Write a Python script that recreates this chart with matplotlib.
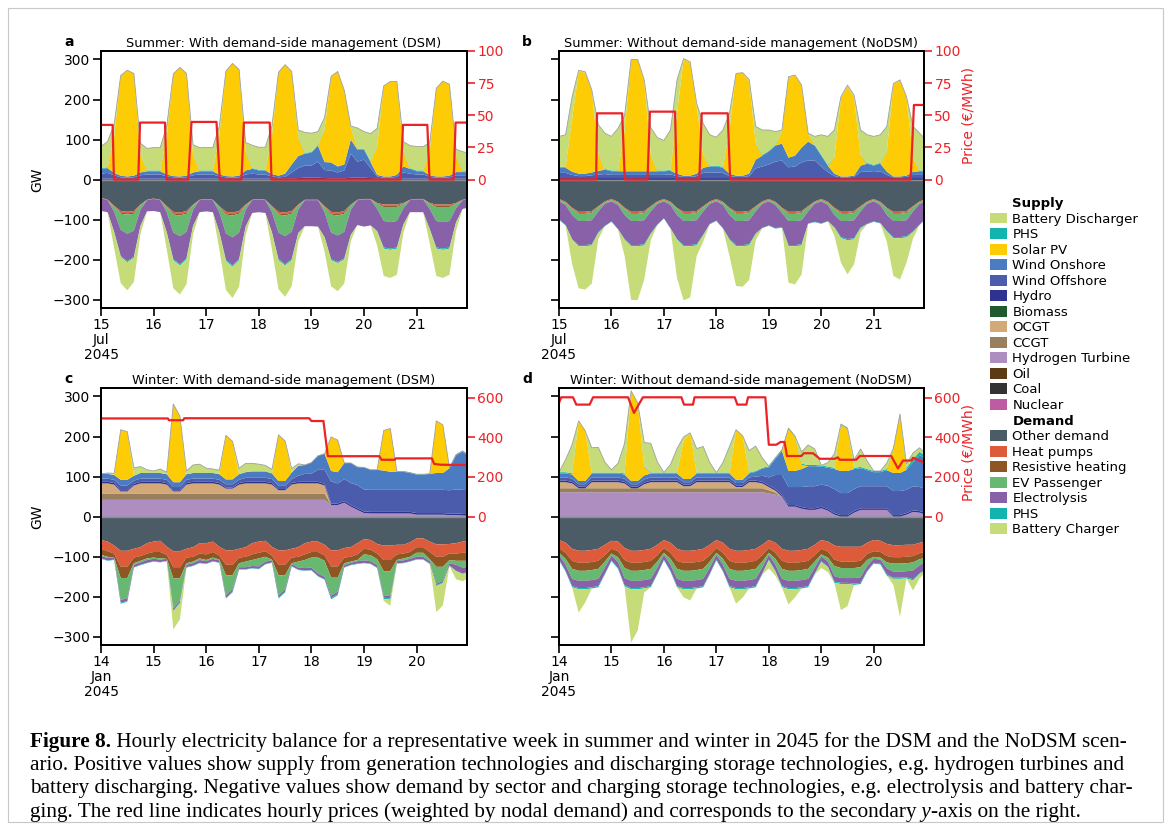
import numpy as np
import matplotlib
matplotlib.use("Agg")
import matplotlib.pyplot as plt
from matplotlib.patches import Patch, Rectangle

# time axis: every 3 hours over the week (0 .. 168 h)
hours = np.arange(0, 169, 3)

# ---------------- a: summer, DSM ----------------
a_hydro = [3, 3, 3, 2, 2, 2, 3, 3,
           3, 3, 2, 2, 2, 2, 3, 3,
           3, 3, 2, 2, 2, 2, 3, 3,
           3, 3, 2, 2, 2, 3, 4, 5,
           5, 5, 4, 3, 3, 3, 5, 5,
           5, 4, 3, 2, 2, 2, 3, 3,
           3, 3, 2, 2, 2, 2, 3, 3, 3]
a_offshore = [12, 14, 8, 4, 3, 4, 8, 10,
              10, 10, 6, 4, 3, 4, 8, 10,
              10, 10, 6, 4, 3, 4, 10, 12,
              10, 10, 6, 4, 5, 15, 25, 30,
              30, 40, 20, 20, 15, 20, 60, 40,
              45, 25, 5, 3, 3, 5, 15, 12,
              10, 10, 5, 3, 3, 4, 8, 8, 8]
a_onshore = [12, 12, 6, 4, 3, 4, 7, 8,
             8, 8, 5, 3, 3, 4, 7, 8,
             8, 8, 5, 3, 3, 4, 10, 12,
             10, 10, 6, 4, 8, 20, 30, 30,
             32, 40, 20, 20, 15, 15, 35, 30,
             25, 15, 4, 3, 3, 5, 15, 12,
             8, 8, 4, 3, 3, 4, 8, 8, 8]
a_solar = [0, 0, 90, 250, 265, 255, 45, 0,
           0, 0, 95, 255, 272, 255, 45, 0,
           0, 0, 95, 262, 282, 265, 45, 0,
           0, 0, 95, 258, 272, 232, 45, 0,
           0, 0, 80, 215, 237, 185, 30, 0,
           0, 0, 70, 226, 237, 233, 35, 0,
           0, 0, 60, 220, 238, 228, 40, 0, 0]
a_phs = [2, 2, 1, 0, 0, 0, 1, 2,
         2, 2, 1, 0, 0, 0, 1, 2,
         2, 2, 1, 0, 0, 0, 2, 2,
         2, 2, 1, 0, 0, 0, 2, 2,
         2, 2, 1, 0, 0, 0, 1, 2,
         2, 2, 1, 0, 0, 0, 2, 2,
         2, 2, 1, 0, 0, 0, 2, 2, 2]
a_battery = [54, 64, 30, 0, 0, 0, 27, 55,
             57, 57, 25, 0, 0, 0, 23, 57,
             57, 57, 25, 0, 0, 0, 23, 57,
             56, 56, 25, 0, 0, 0, 18, 51,
             47, 33, 30, 0, 0, 0, 3, 52,
             43, 69, 45, 0, 0, 0, 25, 56,
             60, 60, 20, 0, 0, 0, 15, 49, 45]
a_other = [45, 50, 65, 78, 80, 78, 62, 50,
           47, 50, 66, 80, 82, 78, 62, 50,
           48, 50, 66, 80, 82, 78, 62, 50,
           48, 50, 66, 80, 82, 78, 62, 50,
           50, 50, 66, 80, 82, 78, 62, 50,
           48, 48, 58, 62, 62, 62, 58, 50,
           48, 48, 58, 62, 62, 62, 58, 50, 48]
a_heat = [1, 1, 2, 4, 4, 4, 2, 1,
          1, 1, 2, 4, 4, 4, 2, 1,
          1, 1, 2, 4, 4, 4, 2, 1,
          1, 1, 2, 4, 4, 4, 2, 1,
          1, 1, 2, 4, 4, 4, 2, 1,
          1, 1, 2, 3, 3, 3, 2, 1,
          1, 1, 2, 3, 3, 3, 2, 1, 1]
a_resist = [0, 0, 1, 3, 3, 3, 1, 0,
            0, 0, 1, 3, 3, 3, 1, 0,
            0, 0, 1, 3, 3, 3, 1, 0,
            0, 0, 1, 3, 3, 3, 1, 0,
            0, 0, 1, 3, 3, 3, 1, 0,
            0, 0, 1, 3, 3, 3, 1, 0,
            0, 0, 1, 3, 3, 3, 1, 0, 0]
a_ev = [0, 0, 12, 40, 48, 42, 10, 0,
        0, 0, 12, 45, 52, 45, 10, 0,
        0, 0, 12, 47, 55, 47, 10, 0,
        0, 0, 12, 45, 52, 45, 10, 0,
        0, 0, 12, 45, 50, 45, 10, 0,
        0, 0, 12, 35, 38, 35, 10, 0,
        0, 0, 12, 35, 38, 35, 10, 0, 0]
a_electro = [32, 30, 50, 65, 68, 65, 40, 28,
             30, 30, 50, 66, 70, 66, 40, 30,
             30, 30, 50, 66, 70, 66, 42, 32,
             32, 32, 50, 66, 70, 68, 58, 65,
             65, 66, 62, 66, 66, 66, 62, 62,
             68, 65, 55, 66, 66, 66, 40, 30,
             32, 32, 50, 66, 66, 66, 35, 22, 20]
a_phs_ch = [0, 0, 1, 3, 3, 3, 1, 0,
            0, 0, 1, 3, 3, 3, 1, 0,
            0, 0, 1, 3, 3, 3, 1, 0,
            0, 0, 1, 3, 3, 3, 1, 0,
            0, 0, 1, 3, 3, 3, 1, 0,
            0, 0, 1, 3, 3, 3, 1, 0,
            0, 0, 1, 3, 3, 3, 1, 0, 0]
a_battery_ch = [0, 0, 40, 65, 70, 60, 20, 0,
                0, 0, 42, 70, 72, 62, 20, 0,
                0, 0, 42, 72, 78, 66, 20, 0,
                0, 0, 42, 72, 78, 65, 20, 0,
                0, 0, 35, 65, 70, 60, 15, 0,
                0, 0, 35, 68, 70, 65, 20, 0,
                0, 0, 35, 68, 70, 65, 20, 0, 0]
a_price_h = [0, 5.3, 5.9, 17.0, 17.8, 29.2, 29.9, 39.8, 41.3, 52.7, 54.2,
             64.1, 65.2, 77.0, 77.8, 136.7, 137.8, 148.9, 149.9, 160.9, 161.8, 167]
a_price = [42.5, 42.5, 0, 0, 44.3, 44.3, 0, 0, 44.8, 44.8, 0,
           0, 44.3, 44.3, 0, 0, 42.5, 42.5, 0, 0, 44.3, 44.3]

# ---------------- b: summer, NoDSM ----------------
b_hydro = [3, 3, 3, 3, 3, 3, 3, 3,
           3, 3, 3, 3, 3, 3, 3, 3,
           3, 3, 3, 3, 3, 3, 3, 3,
           3, 3, 3, 3, 3, 3, 3, 3,
           3, 3, 3, 3, 3, 3, 3, 3,
           3, 3, 3, 3, 3, 3, 3, 3,
           3, 3, 3, 3, 3, 3, 3, 3, 3]
b_offshore = [14, 14, 9, 6, 6, 8, 10, 11,
              9, 9, 9, 9, 9, 9, 9, 9,
              9, 10, 6, 4, 4, 6, 14, 15,
              15, 14, 6, 4, 4, 6, 25, 30,
              35, 42, 45, 28, 30, 40, 45, 45,
              30, 16, 6, 3, 3, 4, 16, 18,
              16, 18, 9, 3, 3, 4, 9, 9, 9]
b_onshore = [13, 13, 8, 6, 6, 7, 9, 11,
             9, 9, 9, 9, 9, 9, 9, 9,
             9, 9, 6, 3, 3, 6, 13, 15,
             15, 13, 6, 3, 3, 6, 22, 27,
             32, 40, 42, 24, 27, 37, 47, 37,
             27, 16, 6, 2, 2, 3, 16, 19,
             16, 19, 8, 2, 2, 3, 8, 9, 9]
b_solar = [0, 0, 130, 255, 252, 205, 40, 0,
           0, 0, 100, 278, 278, 225, 40, 0,
           0, 0, 150, 290, 282, 170, 30, 0,
           0, 0, 110, 255, 257, 230, 40, 0,
           0, 0, 30, 200, 200, 155, 20, 0,
           0, 0, 40, 195, 225, 195, 25, 0,
           0, 0, 50, 230, 240, 195, 35, 0, 0]
b_phs = [2, 2, 1, 0, 0, 0, 1, 2,
         2, 2, 1, 0, 0, 0, 1, 2,
         2, 2, 1, 0, 0, 0, 1, 2,
         2, 2, 1, 0, 0, 0, 1, 2,
         2, 2, 1, 0, 0, 0, 1, 2,
         2, 2, 1, 0, 0, 0, 1, 2,
         2, 2, 1, 0, 0, 0, 1, 2, 2]
b_battery = [76, 80, 56, 3, 2, 1, 74, 89,
             85, 105, 38, 1, 1, 3, 68, 82,
             75, 100, 83, 2, 2, 5, 79, 77,
             71, 92, 40, 0, 0, 5, 42, 62,
             52, 33, 3, 2, 1, 1, 0, 21,
             50, 71, 68, 4, 3, 6, 63, 70,
             71, 70, 62, 2, 1, 2, 77, 93, 76]
b_other = [48, 55, 70, 80, 80, 78, 66, 54,
           48, 55, 70, 80, 80, 78, 66, 54,
           48, 55, 70, 80, 80, 78, 66, 54,
           48, 55, 70, 80, 80, 78, 66, 54,
           48, 55, 70, 80, 80, 78, 66, 54,
           48, 55, 70, 80, 80, 78, 66, 54,
           48, 55, 70, 80, 80, 78, 66, 54, 48]
b_heat = [2, 2, 2, 3, 3, 3, 2, 2,
          2, 2, 2, 3, 3, 3, 2, 2,
          2, 2, 2, 3, 3, 3, 2, 2,
          2, 2, 2, 3, 3, 3, 2, 2,
          2, 2, 2, 3, 3, 3, 2, 2,
          2, 2, 2, 3, 3, 3, 2, 2,
          2, 2, 2, 3, 3, 3, 2, 2, 2]
b_resist = [1, 1, 1, 2, 2, 2, 1, 1,
            1, 1, 1, 2, 2, 2, 1, 1,
            1, 1, 1, 2, 2, 2, 1, 1,
            1, 1, 1, 2, 2, 2, 1, 1,
            1, 1, 1, 2, 2, 2, 1, 1,
            1, 1, 1, 2, 2, 2, 1, 1,
            1, 1, 1, 2, 2, 2, 1, 1, 1]
b_ev = [3, 5, 15, 18, 18, 18, 10, 3,
        3, 5, 15, 18, 18, 18, 10, 3,
        3, 5, 15, 18, 18, 18, 10, 3,
        3, 5, 15, 18, 18, 18, 10, 3,
        3, 5, 10, 18, 18, 18, 10, 3,
        3, 5, 15, 18, 18, 18, 10, 3,
        3, 5, 15, 18, 18, 18, 10, 3, 3]
b_electro = [45, 50, 60, 60, 60, 60, 52, 55,
             50, 60, 60, 60, 60, 60, 55, 52,
             42, 58, 60, 60, 60, 60, 58, 50,
             48, 58, 60, 60, 60, 60, 55, 60,
             60, 58, 35, 60, 60, 60, 30, 45,
             55, 40, 30, 40, 45, 45, 40, 50,
             50, 45, 40, 40, 40, 40, 50, 52, 42]
b_phs_ch = [1, 1, 2, 3, 3, 3, 2, 1,
            1, 1, 2, 3, 3, 3, 2, 1,
            1, 1, 2, 3, 3, 3, 2, 1,
            1, 1, 2, 3, 3, 3, 2, 1,
            1, 1, 2, 3, 3, 3, 1, 1,
            1, 1, 2, 3, 3, 3, 2, 1,
            1, 1, 2, 3, 3, 3, 2, 1, 1]
b_battery_ch = [0, 0, 60, 105, 108, 95, 15, 0,
                0, 0, 40, 134, 134, 85, 15, 0,
                0, 0, 95, 135, 128, 26, 15, 0,
                0, 0, 40, 99, 101, 86, 15, 0,
                0, 0, 0, 91, 95, 72, 0, 0,
                0, 0, 20, 61, 85, 62, 10, 0,
                0, 0, 25, 94, 103, 63, 15, 0, 0]
b_price_h = [0, 17.0, 17.4, 28.9, 30.1, 40.5, 41.6, 53.1, 53.8, 64.2, 65.3,
             77.2, 78.3, 160.9, 162.4, 167]
b_price = [0, 0, 51.5, 51.5, 0, 0, 52.8, 52.8, 0, 0, 51.5,
           51.5, 0, 0, 58, 58]

# ---------------- c: winter, DSM ----------------
c_h2 = [42, 42, 42, 42, 42, 42, 42, 42,
        42, 42, 42, 42, 42, 42, 42, 42,
        42, 42, 42, 42, 42, 42, 42, 42,
        42, 42, 42, 42, 42, 42, 42, 42,
        42, 42, 42, 29, 29, 35, 25, 17,
        9, 8, 8, 8, 8, 8, 8, 8,
        5, 5, 5, 5, 5, 4, 4, 3, 2]
c_ccgt = [16, 16, 16, 16, 16, 16, 16, 16,
          16, 16, 16, 16, 16, 16, 16, 16,
          16, 16, 16, 16, 16, 16, 16, 16,
          16, 16, 16, 16, 16, 16, 16, 16,
          16, 16, 16, 0, 0, 0, 0, 0,
          0, 0, 0, 0, 0, 0, 0, 0,
          0, 0, 0, 0, 0, 0, 0, 0, 0]
c_ocgt = [25, 25, 22, 5, 5, 20, 25, 25,
          25, 25, 22, 5, 5, 22, 25, 25,
          25, 25, 22, 12, 12, 22, 25, 25,
          25, 25, 22, 8, 8, 22, 25, 25,
          25, 25, 20, 0, 0, 0, 0, 0,
          0, 0, 0, 0, 0, 0, 0, 0,
          0, 0, 0, 0, 0, 0, 0, 0, 0]
c_hydro = [4, 4, 4, 3, 3, 4, 4, 4,
           4, 4, 4, 3, 3, 4, 4, 4,
           4, 4, 4, 3, 3, 4, 4, 4,
           4, 4, 4, 3, 3, 4, 4, 4,
           4, 4, 4, 4, 4, 4, 4, 4,
           4, 4, 4, 4, 4, 4, 4, 4,
           4, 4, 4, 4, 4, 4, 4, 4, 4]
c_offshore = [8, 8, 8, 12, 12, 8, 8, 8,
              8, 8, 8, 8, 8, 8, 8, 8,
              8, 8, 8, 8, 8, 8, 10, 10,
              10, 10, 10, 8, 8, 10, 15, 20,
              20, 30, 35, 55, 50, 55, 55, 58,
              55, 55, 55, 55, 55, 55, 55, 55,
              58, 58, 58, 58, 58, 58, 60, 60, 60]
c_onshore = [12, 12, 12, 14, 14, 12, 14, 14,
             14, 14, 14, 12, 12, 14, 14, 14,
             14, 14, 14, 12, 12, 14, 14, 16,
             16, 16, 14, 12, 12, 16, 25, 22,
             28, 35, 40, 26, 28, 40, 50, 45,
             55, 50, 50, 48, 45, 45, 45, 42,
             38, 38, 40, 42, 42, 55, 85, 95, 85]
c_solar = [0, 0, 0, 125, 120, 0, 0, 0,
           0, 0, 0, 195, 165, 0, 0, 0,
           0, 0, 0, 110, 95, 0, 0, 0,
           0, 0, 0, 115, 100, 0, 0, 0,
           0, 0, 0, 85, 80, 0, 0, 0,
           0, 0, 0, 100, 108, 0, 0, 0,
           0, 0, 0, 130, 120, 0, 0, 0, 0]
c_phs = [0, 0, 0, 0, 0, 0, 0, 0,
         0, 0, 0, 0, 0, 0, 0, 0,
         0, 0, 0, 0, 0, 0, 0, 0,
         0, 0, 0, 0, 0, 0, 0, 0,
         0, 0, 0, 0, 0, 0, 0, 0,
         0, 0, 0, 0, 0, 1, 1, 1,
         1, 1, 0, 0, 0, 1, 2, 2, 2]
c_battery = [0, 2, 4, 0, 0, 20, 16, 8,
             5, 10, 5, 0, 0, 8, 20, 22,
             12, 10, 10, 0, 0, 15, 22, 20,
             18, 15, 10, 0, 0, 10, 5, 0,
             0, 0, 0, 0, 0, 0, 0, 0,
             0, 0, 0, 0, 0, 0, 0, 0,
             0, 0, 0, 0, 0, 0, 0, 0, 0]
c_other = [58, 62, 72, 85, 85, 80, 76, 66,
           62, 60, 75, 86, 86, 80, 76, 66,
           66, 62, 75, 84, 84, 80, 76, 66,
           62, 60, 75, 84, 84, 80, 76, 66,
           62, 62, 70, 84, 84, 78, 76, 66,
           56, 58, 68, 72, 72, 70, 70, 64,
           54, 54, 62, 69, 69, 68, 66, 62, 62]
c_heat = [22, 24, 20, 40, 40, 22, 22, 26,
          26, 28, 20, 40, 40, 22, 24, 26,
          28, 26, 22, 36, 36, 22, 24, 28,
          28, 26, 22, 36, 36, 22, 24, 28,
          26, 26, 26, 40, 40, 24, 24, 28,
          24, 24, 24, 36, 36, 24, 22, 24,
          22, 22, 26, 31, 31, 24, 26, 28, 28]
c_resist = [15, 14, 10, 28, 28, 14, 12, 12,
            14, 16, 10, 28, 28, 14, 12, 12,
            14, 14, 10, 26, 26, 14, 12, 14,
            14, 14, 10, 26, 26, 14, 12, 14,
            14, 14, 14, 28, 28, 14, 12, 14,
            14, 14, 14, 28, 28, 14, 12, 12,
            14, 14, 18, 25, 25, 16, 18, 20, 20]
c_ev = [3, 3, 0, 55, 50, 4, 4, 4,
        3, 3, 0, 75, 55, 4, 4, 4,
        3, 3, 2, 50, 35, 10, 14, 15,
        20, 12, 2, 50, 35, 2, 15, 20,
        25, 40, 40, 45, 35, 5, 3, 3,
        15, 15, 15, 60, 62, 3, 5, 5,
        10, 10, 5, 42, 35, 8, 10, 17, 15]
c_electro = [6, 6, 5, 7, 7, 6, 6, 7,
             6, 6, 5, 5, 5, 6, 6, 7,
             6, 6, 5, 6, 6, 5, 5, 5,
             6, 6, 5, 6, 6, 5, 5, 6,
             6, 6, 6, 6, 6, 5, 5, 6,
             6, 6, 6, 6, 6, 5, 6, 6,
             6, 6, 6, 4, 4, 6, 15, 15, 12]
c_phs_ch = [1, 1, 1, 2, 2, 1, 1, 1,
            1, 1, 1, 2, 2, 1, 1, 1,
            1, 1, 1, 2, 2, 1, 1, 1,
            1, 1, 1, 2, 2, 1, 1, 1,
            1, 1, 1, 3, 3, 1, 1, 1,
            1, 1, 1, 3, 3, 1, 1, 1,
            1, 1, 1, 2, 2, 1, 1, 1, 1]
c_battery_ch = [0, 0, 0, 0, 0, 0, 0, 0,
                0, 0, 0, 45, 40, 0, 0, 0,
                0, 0, 0, 0, 0, 0, 0, 0,
                0, 0, 0, 0, 0, 0, 0, 0,
                0, 0, 0, 0, 0, 0, 0, 0,
                0, 0, 0, 5, 15, 0, 0, 0,
                0, 0, 0, 65, 55, 0, 20, 18, 15]
c_price_h = [0, 30.5, 31, 37.5, 38, 95, 96, 101.5, 103.5, 127, 128, 134, 134.5,
             151, 152, 155, 167]
c_price = [496, 496, 487, 487, 497, 497, 483, 483, 305, 305, 287, 287, 294,
           294, 266, 262, 260]

# ---------------- d: winter, NoDSM ----------------
d_h2 = [61, 61, 61, 61, 61, 61, 61, 61,
        61, 61, 61, 61, 61, 61, 61, 61,
        61, 61, 61, 61, 61, 61, 61, 61,
        61, 61, 61, 61, 61, 61, 61, 61,
        58, 55, 50, 25, 25, 20, 17, 17,
        21, 15, 5, 0, 0, 10, 17, 17,
        17, 17, 17, 0, 0, 5, 12, 10, 5]
d_ccgt = [10, 10, 10, 10, 10, 10, 10, 10,
          10, 10, 10, 10, 10, 10, 10, 10,
          10, 10, 10, 10, 10, 10, 10, 10,
          10, 10, 10, 10, 10, 10, 10, 10,
          8, 5, 0, 0, 0, 0, 0, 0,
          0, 0, 0, 0, 0, 0, 0, 0,
          0, 0, 0, 0, 0, 0, 0, 0, 0]
d_ocgt = [15, 15, 12, 0, 0, 15, 15, 15,
          15, 15, 12, 0, 0, 10, 15, 15,
          15, 15, 15, 5, 5, 15, 15, 15,
          15, 15, 15, 3, 3, 15, 15, 12,
          8, 5, 0, 0, 0, 0, 0, 0,
          0, 0, 0, 0, 0, 0, 0, 0,
          0, 0, 0, 0, 0, 0, 0, 0, 0]
d_hydro = [4, 4, 4, 4, 4, 4, 4, 4,
           4, 4, 4, 4, 4, 4, 4, 4,
           4, 4, 4, 4, 4, 4, 4, 4,
           4, 4, 4, 4, 4, 4, 4, 4,
           4, 4, 4, 4, 4, 4, 4, 4,
           4, 4, 4, 4, 4, 4, 4, 4,
           4, 4, 4, 4, 4, 4, 4, 4, 4]
d_offshore = [8, 8, 8, 6, 6, 8, 8, 8,
              8, 8, 8, 6, 6, 8, 8, 8,
              8, 8, 8, 6, 6, 8, 8, 8,
              8, 8, 8, 6, 6, 8, 10, 15,
              20, 35, 50, 45, 45, 50, 55, 55,
              55, 58, 60, 55, 55, 55, 55, 55,
              55, 55, 55, 60, 60, 58, 60, 60, 60]
d_onshore = [10, 10, 10, 8, 8, 10, 10, 10,
             10, 10, 10, 8, 8, 10, 10, 10,
             10, 10, 10, 8, 8, 10, 10, 10,
             10, 10, 10, 8, 8, 10, 12, 18,
             25, 40, 60, 40, 40, 45, 50, 50,
             45, 45, 50, 55, 55, 50, 45, 40,
             35, 35, 40, 45, 45, 50, 60, 80, 75]
d_solar = [0, 0, 0, 150, 125, 0, 0, 0,
           0, 0, 0, 225, 195, 20, 0, 0,
           0, 0, 0, 95, 115, 0, 0, 0,
           0, 0, 0, 125, 110, 0, 0, 0,
           0, 0, 0, 105, 85, 10, 0, 0,
           0, 0, 0, 115, 105, 0, 0, 0,
           0, 0, 0, 60, 145, 0, 0, 0, 0]
d_phs = [3, 3, 3, 0, 0, 2, 2, 2,
         2, 2, 3, 0, 0, 2, 2, 2,
         2, 2, 2, 0, 0, 2, 2, 2,
         2, 2, 2, 0, 0, 2, 2, 2,
         3, 3, 3, 2, 2, 3, 3, 3,
         3, 3, 3, 2, 2, 3, 3, 3,
         3, 3, 3, 2, 2, 5, 8, 8, 6]
d_battery = [0, 31, 72, 0, 0, 62, 63, 26,
             7, 23, 75, 0, 0, 60, 73, 27,
             0, 20, 60, 10, 0, 60, 65, 25,
             0, 25, 65, 0, 0, 55, 62, 25,
             0, 0, 0, 0, 0, 30, 50, 40,
             0, 10, 35, 0, 0, 20, 45, 20,
             0, 0, 15, 0, 0, 10, 15, 10, 5]
d_other = [58, 65, 80, 85, 85, 83, 80, 70,
           60, 62, 78, 85, 85, 83, 80, 70,
           58, 65, 80, 85, 85, 83, 80, 70,
           58, 65, 80, 85, 85, 83, 80, 70,
           58, 65, 80, 85, 85, 83, 80, 70,
           58, 62, 72, 75, 75, 75, 75, 65,
           58, 60, 68, 71, 71, 70, 70, 65, 62]
d_heat = [20, 25, 30, 30, 30, 30, 30, 26,
          20, 24, 30, 30, 30, 30, 30, 26,
          20, 25, 30, 30, 30, 30, 30, 26,
          20, 25, 30, 30, 30, 30, 30, 26,
          20, 25, 30, 30, 30, 30, 30, 26,
          22, 25, 35, 37, 37, 37, 35, 28,
          28, 28, 30, 30, 30, 30, 28, 26, 25]
d_resist = [12, 15, 20, 20, 20, 20, 20, 16,
            12, 15, 20, 20, 20, 20, 20, 16,
            12, 15, 20, 20, 20, 20, 20, 16,
            12, 15, 20, 20, 20, 20, 20, 16,
            12, 15, 20, 20, 20, 20, 20, 16,
            14, 15, 16, 16, 16, 16, 16, 15,
            14, 14, 16, 16, 16, 16, 16, 15, 15]
d_ev = [5, 15, 25, 25, 25, 25, 25, 15,
        5, 12, 25, 25, 25, 25, 25, 15,
        5, 15, 25, 25, 25, 25, 25, 15,
        5, 15, 25, 25, 25, 25, 25, 15,
        5, 15, 25, 25, 25, 25, 25, 15,
        5, 10, 25, 25, 25, 25, 25, 15,
        5, 5, 15, 20, 20, 20, 20, 15, 10]
d_electro = [12, 15, 18, 18, 18, 18, 18, 15,
             12, 15, 18, 18, 18, 18, 18, 15,
             12, 15, 18, 18, 18, 18, 18, 15,
             12, 15, 18, 18, 18, 18, 18, 15,
             12, 15, 18, 18, 18, 18, 18, 15,
             12, 12, 14, 12, 12, 14, 14, 12,
             10, 10, 15, 15, 15, 15, 22, 20, 18]
d_phs_ch = [2, 2, 3, 3, 3, 3, 3, 2,
            2, 2, 3, 3, 3, 3, 3, 2,
            2, 2, 3, 3, 3, 3, 3, 2,
            2, 2, 3, 3, 3, 3, 3, 2,
            2, 2, 3, 3, 3, 3, 3, 2,
            2, 2, 3, 3, 3, 3, 3, 2,
            2, 2, 3, 3, 3, 3, 3, 2, 2]
d_battery_ch = [0, 0, 0, 58, 33, 0, 0, 0,
                0, 0, 0, 133, 103, 10, 0, 0,
                0, 0, 0, 20, 28, 0, 0, 0,
                0, 0, 0, 36, 21, 0, 0, 0,
                20, 10, 0, 38, 20, 0, 0, 0,
                15, 12, 0, 65, 55, 0, 0, 0,
                0, 0, 0, 15, 95, 0, 25, 10, 5]
d_price_h = [0, 1, 6.4, 7.9, 14, 15.6, 31.6, 34.3, 38.4, 56, 57.2, 61.3, 62,
             80.4, 81.6, 85.7, 86.5, 94.4, 96, 99.4, 101.4, 103.2, 104.3, 110.9,
             112, 116.2, 119.3, 126.1, 127.6, 128.4, 136, 137.6, 152, 155.1,
             157.4, 161.2, 162, 166.5, 167]
d_price = [575, 603, 603, 566, 566, 603, 603, 524, 603, 603, 566, 566, 603,
           603, 566, 566, 603, 603, 363, 363, 377, 377, 306, 306,
           320, 320, 292, 292, 299, 287, 287, 306, 306, 243,
           283, 283, 297, 276, 276]

summer_ticks = ['15\nJul\n2045', '16', '17', '18', '19', '20', '21']
winter_ticks = ['14\nJan\n2045', '15', '16', '17', '18', '19', '20']

COL = {
    'battery': '#c5dc78', 'phs': '#14b4ae', 'solar': '#fdcc05',
    'onshore': '#4b7bc0', 'offshore': '#4a5cab', 'hydro': '#2e3291',
    'biomass': '#1f5b2f', 'ocgt': '#d3a977', 'ccgt': '#9a7f5f',
    'h2': '#ae8dc1', 'oil': '#5c3a16', 'coal': '#333333', 'nuclear': '#bf5aa4',
    'other': '#4c5c67', 'heat': '#dd5a3b', 'resist': '#8f5522',
    'ev': '#67b871', 'electro': '#8961a9',
}
RED = '#ec2227'

W, H = 1171, 827
plt.rcParams['font.family'] = ['DejaVu Sans']
fig = plt.figure(figsize=(W / 100, H / 100), dpi=100)


def box(l, t, r, b):
    return [l / W, 1 - b / H, (r - l) / W, (b - t) / H]


def panel(rect, supply, demand, ph, pv, pticks, plim, title, xt,
          left_labels, right_label):
    ax = fig.add_axes(rect)
    ax.stackplot(hours, *[np.array(v) for v, c in supply],
                 colors=[COL[c] for v, c in supply], lw=0)
    ax.stackplot(hours, *[-np.array(v) for v, c in demand],
                 colors=[COL[c] for v, c in demand], lw=0)
    top = np.sum([np.array(v) for v, c in supply], axis=0)
    ax.plot(hours, top, color='#a0a0a0', lw=0.6)
    ax.axhline(0, color='#8c8c8c', lw=1.0)
    ax.set_xlim(0, 167)
    ax.set_ylim(-320, 321)
    ax.set_yticks([-300, -200, -100, 0, 100, 200, 300])
    if not left_labels:
        ax.set_yticklabels([])
    else:
        ax.set_ylabel('GW', fontsize=10, labelpad=6)
    ax.set_xticks(range(0, 145, 24))
    ax.set_xticklabels(xt)
    for t in ax.get_xticklabels():
        t.set_linespacing(1.05)
    ax.tick_params(axis='both', labelsize=10, length=6, width=1.2, pad=1.5)
    for s in ax.spines.values():
        s.set_linewidth(1.4)
    ax.set_title(title, fontsize=9.3, pad=3)
    ax2 = ax.twinx()
    ax2.plot(ph, pv, color=RED, lw=1.6)
    ax2.set_ylim(plim)
    ax2.set_yticks(pticks)
    ax2.tick_params(axis='y', colors=RED, labelsize=10, length=6, width=1.2, pad=1.5)
    for s in ax2.spines.values():
        s.set_linewidth(1.4)
    if right_label:
        ax2.set_ylabel('Price (€/MWh)', color=RED, fontsize=10)
        ax2.yaxis.set_label_coords(1.104, 0.75)
    return ax


def summer_supply(hy, off, on, so, ph, ba):
    return [(hy, 'hydro'), (off, 'offshore'), (on, 'onshore'), (so, 'solar'),
            (ph, 'phs'), (ba, 'battery')]


def demand_stack(ot, he, re, ev, el, ph, ba):
    return [(ot, 'other'), (he, 'heat'), (re, 'resist'), (ev, 'ev'),
            (el, 'electro'), (ph, 'phs'), (ba, 'battery')]


def winter_supply(h2, cc, oc, hy, off, on, so, ph, ba):
    return [(h2, 'h2'), (cc, 'ccgt'), (oc, 'ocgt'), (hy, 'hydro'), (off, 'offshore'),
            (on, 'onshore'), (so, 'solar'), (ph, 'phs'), (ba, 'battery')]


panel(box(101, 51, 467, 308),
      summer_supply(a_hydro, a_offshore, a_onshore, a_solar, a_phs, a_battery),
      demand_stack(a_other, a_heat, a_resist, a_ev, a_electro, a_phs_ch, a_battery_ch),
      a_price_h, a_price, [0, 25, 50, 75, 100], (-100, 100),
      'Summer: With demand-side management (DSM)', summer_ticks, True, False)
panel(box(559, 51, 924, 308),
      summer_supply(b_hydro, b_offshore, b_onshore, b_solar, b_phs, b_battery),
      demand_stack(b_other, b_heat, b_resist, b_ev, b_electro, b_phs_ch, b_battery_ch),
      b_price_h, b_price, [0, 25, 50, 75, 100], (-100, 100),
      'Summer: Without demand-side management (NoDSM)', summer_ticks, False, True)
panel(box(101, 388, 467, 645),
      winter_supply(c_h2, c_ccgt, c_ocgt, c_hydro, c_offshore, c_onshore, c_solar,
                    c_phs, c_battery),
      demand_stack(c_other, c_heat, c_resist, c_ev, c_electro, c_phs_ch, c_battery_ch),
      c_price_h, c_price, [0, 200, 400, 600], (-650, 650),
      'Winter: With demand-side management (DSM)', winter_ticks, True, False)
panel(box(559, 388, 924, 645),
      winter_supply(d_h2, d_ccgt, d_ocgt, d_hydro, d_offshore, d_onshore, d_solar,
                    d_phs, d_battery),
      demand_stack(d_other, d_heat, d_resist, d_ev, d_electro, d_phs_ch, d_battery_ch),
      d_price_h, d_price, [0, 200, 400, 600], (-650, 650),
      'Winter: Without demand-side management (NoDSM)', winter_ticks, False, True)

for letter, (px, py) in zip('abcd', [(64, 42), (522, 42), (64, 379), (522, 379)]):
    fig.text(px / W, 1 - py / H, letter, fontsize=10, weight='bold', va='center')

# legend
legend_rows = [('Supply', None), ('Battery Discharger', 'battery'), ('PHS', 'phs'),
               ('Solar PV', 'solar'), ('Wind Onshore', 'onshore'),
               ('Wind Offshore', 'offshore'), ('Hydro', 'hydro'), ('Biomass', 'biomass'),
               ('OCGT', 'ocgt'), ('CCGT', 'ccgt'), ('Hydrogen Turbine', 'h2'),
               ('Oil', 'oil'), ('Coal', 'coal'), ('Nuclear', 'nuclear'),
               ('Demand', None), ('Other demand', 'other'), ('Heat pumps', 'heat'),
               ('Resistive heating', 'resist'), ('EV Passenger', 'ev'),
               ('Electrolysis', 'electro'), ('PHS', 'phs'), ('Battery Charger', 'battery')]
handles = [Patch(facecolor=COL[c] if c else 'none', edgecolor='none') for _, c in legend_rows]
leg = fig.legend(handles, [n for n, _ in legend_rows], loc='upper left',
                 bbox_to_anchor=(990 / W, 1 - 197 / H), frameon=False, fontsize=9.5,
                 handlelength=1.3, handleheight=0.9, handletextpad=0.4,
                 labelspacing=0.19, borderaxespad=0, borderpad=0)
for t, (_, c) in zip(leg.get_texts(), legend_rows):
    if c is None:
        t.set_weight('bold')

# caption
cap_lines = [
    [('Figure 8.', 'bold', 'normal'),
     (' Hourly electricity balance for a representative week in summer and winter in 2045 for the DSM and the NoDSM scen-', 'normal', 'normal')],
    [('ario. Positive values show supply from generation technologies and discharging storage technologies, e.g. hydrogen turbines and', 'normal', 'normal')],
    [('battery discharging. Negative values show demand by sector and charging storage technologies, e.g. electrolysis and battery char-', 'normal', 'normal')],
    [('ging. The red line indicates hourly prices (weighted by nodal demand) and corresponds to the secondary', 'normal', 'normal'),
     (' y', 'normal', 'italic'), ('-axis on the right.', 'normal', 'normal')],
]
renderer = fig.canvas.get_renderer()
for i, runs in enumerate(cap_lines):
    x = 30.0
    y = 747 + i * 23.2
    for txt, wgt, sty in runs:
        t = fig.text(x / W, 1 - y / H, txt, fontsize=15.3, family='Liberation Serif',
                     weight=wgt, style=sty, va='baseline')
        x += t.get_window_extent(renderer=renderer).width

fig.patches.append(Rectangle((8 / W, 5 / H), 1155 / W, 814 / H, transform=fig.transFigure,
                             fill=False, edgecolor='#c8c8c8', lw=0.8))

fig.savefig('out.png', dpi=100)
